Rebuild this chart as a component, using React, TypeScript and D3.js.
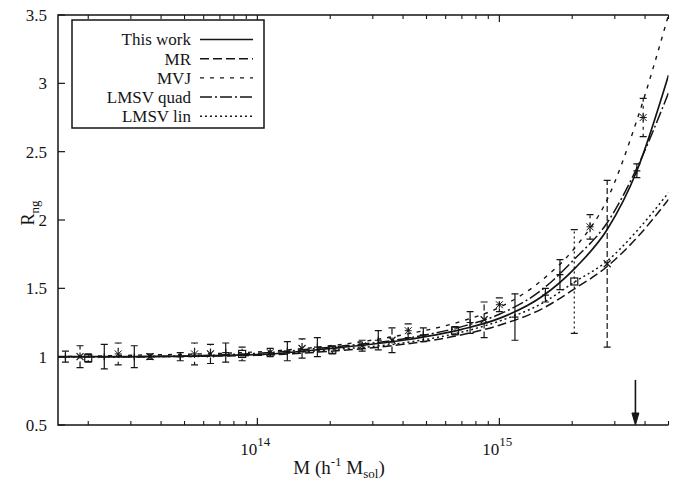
import React from 'react';
import * as d3 from 'd3';

// Model curves (mass in h^-1 Msol, value R_ng)
const curveMass = [1.5e13, 3e13, 1e14, 2e14, 4e14, 7e14, 1e15, 1.5e15, 2.06e15, 2.79e15, 3.7e15, 5e15];
const thisWork = [1.0, 1.0, 1.015, 1.06, 1.12, 1.2, 1.28, 1.44, 1.65, 1.93, 2.36, 3.06];
const mr = [1.0, 1.0, 1.01, 1.04, 1.09, 1.16, 1.23, 1.35, 1.5, 1.66, 1.87, 2.15];
const mvj = [1.0, 1.01, 1.035, 1.08, 1.16, 1.26, 1.36, 1.56, 1.8, 2.15, 2.73, 3.5];
const lmsvQuad = [1.0, 1.0, 1.025, 1.07, 1.13, 1.22, 1.31, 1.49, 1.72, 1.98, 2.38, 2.93];
const lmsvLin = [1.0, 1.0, 1.015, 1.05, 1.1, 1.18, 1.26, 1.39, 1.55, 1.7, 1.92, 2.2];

// Simulation points with error bars
const s1Mass = [1.61e13, 2.33e13, 3.1e13, 4.8e13, 7.4e13, 1.33e14, 1.77e14, 3.16e14, 4.85e14, 7.57e14, 1.16e15, 1.55e15, 1.78e15, 3.7e15];
const s1Val = [1.0, 1.0, 1.0, 1.0, 1.03, 1.04, 1.07, 1.12, 1.16, 1.25, 1.29, 1.45, 1.6, 2.36];
const s1Err = [0.04, 0.09, 0.08, 0.03, 0.07, 0.07, 0.07, 0.07, 0.05, 0.08, 0.17, 0.05, 0.11, 0.05];

const s2Mass = [1.85e13, 3.6e13, 6.4e13, 1.53e14, 3.6e14, 8.65e14, 2.79e15];
const s2Val = [1.0, 1.0, 1.02, 1.06, 1.12, 1.27, 1.68];
const s2Err = [0.08, 0.02, 0.07, 0.07, 0.09, 0.13, 0.61];

const s3Mass = [2.66e13, 5.5e13, 1.13e14, 2.71e14, 4.2e14, 1.0e15, 2.37e15, 3.93e15];
const s3Val = [1.02, 1.02, 1.03, 1.08, 1.19, 1.38, 1.95, 2.75];
const s3Err = [0.08, 0.08, 0.03, 0.04, 0.05, 0.05, 0.09, 0.14];

const s4Mass = [2.0e13, 8.65e13, 2.04e14, 6.56e14, 2.04e15];
const s4Val = [0.99, 1.02, 1.05, 1.19, 1.55];
const s4Err = [0.03, 0.05, 0.03, 0.03, 0.38];

const arrowMass = 3.65e15;
const yTicks = [0.5, 1, 1.5, 2, 2.5, 3, 3.5];
const yTickLabels = ['0.5', '1', '1.5', '2', '2.5', '3', '3.5'];
const xMajor = [1e14, 1e15];
const xMajorExp = ['14', '15'];
const legendLabels = ['This work', 'MR', 'MVJ', 'LMSV quad', 'LMSV lin'];

const INK = '#151515';
const FONT = '"Liberation Serif", "Times New Roman", serif';

export default function App() {
  const x = d3.scaleLog().domain([1.5e13, 5e15]).range([58, 668.5]);
  const y = d3.scaleLinear().domain([0.5, 3.5]).range([425, 15]);
  const left = 58, right = 668.5, top = 15, bottom = 425;

  const line = (vals: number[]) =>
    d3.line<number>()
      .x((_, i) => x(curveMass[i]))
      .y((v) => y(v))
      .curve(d3.curveMonotoneX)(vals) || '';

  const curves = [
    { vals: thisWork, dash: 'none', w: 1.7 },
    { vals: mr, dash: '9,4', w: 1.5 },
    { vals: mvj, dash: '4,6', w: 1.4 },
    { vals: lmsvQuad, dash: '12,3,2,3', w: 1.5 },
    { vals: lmsvLin, dash: '2,3', w: 1.5 },
  ];

  const minor: number[] = [];
  for (let e = 13; e <= 15; e++) {
    for (let m = 1; m <= 9; m++) {
      const v = m * Math.pow(10, e);
      if (v >= 1.5e13 && v <= 5e15 && !xMajor.includes(v)) minor.push(v);
    }
  }

  const series = [
    { mass: s1Mass, val: s1Val, err: s1Err, dash: 'none', sym: 'plus' },
    { mass: s2Mass, val: s2Val, err: s2Err, dash: '6,3', sym: 'x' },
    { mass: s3Mass, val: s3Val, err: s3Err, dash: '3,4', sym: 'star' },
    { mass: s4Mass, val: s4Val, err: s4Err, dash: '2,3', sym: 'square' },
  ];

  const symbol = (sym: string, cx: number, cy: number, key: string) => {
    const s = 3.5;
    if (sym === 'plus')
      return <path key={key} d={`M${cx - s},${cy}H${cx + s}M${cx},${cy - s}V${cy + s}`} stroke={INK} strokeWidth={1.2} />;
    if (sym === 'x')
      return <path key={key} d={`M${cx - s},${cy - s}L${cx + s},${cy + s}M${cx - s},${cy + s}L${cx + s},${cy - s}`} stroke={INK} strokeWidth={1.2} />;
    if (sym === 'star')
      return <path key={key} d={`M${cx - s},${cy - s}L${cx + s},${cy + s}M${cx - s},${cy + s}L${cx + s},${cy - s}M${cx - s},${cy}H${cx + s}M${cx},${cy - s}V${cy + s}`} stroke={INK} strokeWidth={1} />;
    return <rect key={key} x={cx - s} y={cy - s} width={2 * s} height={2 * s} fill="none" stroke={INK} strokeWidth={1.2} />;
  };

  const legX0 = 72, legY0 = 20, legX1 = 264, legY1 = 128;

  return (
    <svg width={678} height={483} style={{ position: 'absolute', left: 0, top: 0, background: '#fff' }} fontFamily={FONT}>
      <rect x={0} y={0} width={678} height={483} fill="#fff" />
      <defs>
        <clipPath id="plotclip">
          <rect x={left} y={top} width={right - left} height={bottom - top} />
        </clipPath>
      </defs>
      <g clipPath="url(#plotclip)">
        {curves.map((c, i) => (
          <path key={i} d={line(c.vals)} fill="none" stroke={INK} strokeWidth={c.w} strokeDasharray={c.dash} />
        ))}
        {series.map((s, si) =>
          s.mass.map((m, i) => {
            const cx = x(m);
            const y0 = y(s.val[i] - s.err[i]);
            const y1 = y(s.val[i] + s.err[i]);
            const cy = y(s.val[i]);
            return (
              <g key={`${si}-${i}`}>
                <path d={`M${cx},${y0}V${y1}`} stroke={INK} strokeWidth={1.2} strokeDasharray={s.dash} />
                <path d={`M${cx - 3.5},${y0}H${cx + 3.5}M${cx - 3.5},${y1}H${cx + 3.5}`} stroke={INK} strokeWidth={1.2} />
                {symbol(s.sym, cx, cy, `sym-${si}-${i}`)}
              </g>
            );
          })
        )}
      </g>

      {/* axes frame: left, bottom, top */}
      <path d={`M${right},${top}H${left}V${bottom}H${right}`} fill="none" stroke={INK} strokeWidth={1.5} />
      {yTicks.map((t, i) => (
        <g key={`yt${i}`}>
          <line x1={left} x2={left + 7} y1={y(t)} y2={y(t)} stroke={INK} strokeWidth={1.2} />
          <text x={47} y={y(t)} dy="0.35em" textAnchor="end" fontSize={17} fill={INK}>{yTickLabels[i]}</text>
        </g>
      ))}
      {minor.map((m, i) => (
        <g key={`xm${i}`}>
          <line x1={x(m)} x2={x(m)} y1={bottom} y2={bottom - 4} stroke={INK} strokeWidth={1.1} />
          <line x1={x(m)} x2={x(m)} y1={top} y2={top + 4} stroke={INK} strokeWidth={1.1} />
        </g>
      ))}
      {xMajor.map((m, i) => (
        <g key={`xM${i}`}>
          <line x1={x(m)} x2={x(m)} y1={bottom} y2={bottom - 7} stroke={INK} strokeWidth={1.2} />
          <line x1={x(m)} x2={x(m)} y1={top} y2={top + 7} stroke={INK} strokeWidth={1.2} />
          <text x={x(m) - 2} y={455} textAnchor="middle" fontSize={17} fill={INK}>
            10<tspan dy={-9} fontSize={13}>{xMajorExp[i]}</tspan>
          </text>
        </g>
      ))}

      {/* arrow */}
      <line x1={x(arrowMass)} x2={x(arrowMass)} y1={y(0.83)} y2={bottom - 6} stroke={INK} strokeWidth={1.6} />
      <path d={`M${x(arrowMass) - 3.5},${bottom - 12}L${x(arrowMass) + 3.5},${bottom - 12}L${x(arrowMass)},${bottom}Z`} fill={INK} stroke={INK} strokeWidth={1} />

      {/* axis labels */}
      <text transform="translate(34,213) rotate(-90)" textAnchor="middle" fontSize={18} fill={INK}>
        R<tspan dy={5} fontSize={13}>ng</tspan>
      </text>
      <text x={339} y={474} textAnchor="middle" fontSize={19} fill={INK}>
        M (h<tspan dy={-8} fontSize={13}>-1</tspan><tspan dy={8}> M</tspan><tspan dy={4} fontSize={13}>sol</tspan><tspan dy={-4}>)</tspan>
      </text>

      {/* legend */}
      <rect x={legX0} y={legY0} width={legX1 - legX0} height={legY1 - legY0} fill="#fff" stroke={INK} strokeWidth={1.5} />
      {legendLabels.map((lab, i) => {
        const ly = 39.5 + i * 19.2;
        return (
          <g key={`lg${i}`}>
            <text x={191} y={ly} dy="0.35em" textAnchor="end" fontSize={17} fill={INK}>{lab}</text>
            <line x1={200} x2={253} y1={ly} y2={ly} stroke={INK} strokeWidth={curves[i].w} strokeDasharray={curves[i].dash} />
          </g>
        );
      })}
    </svg>
  );
}
